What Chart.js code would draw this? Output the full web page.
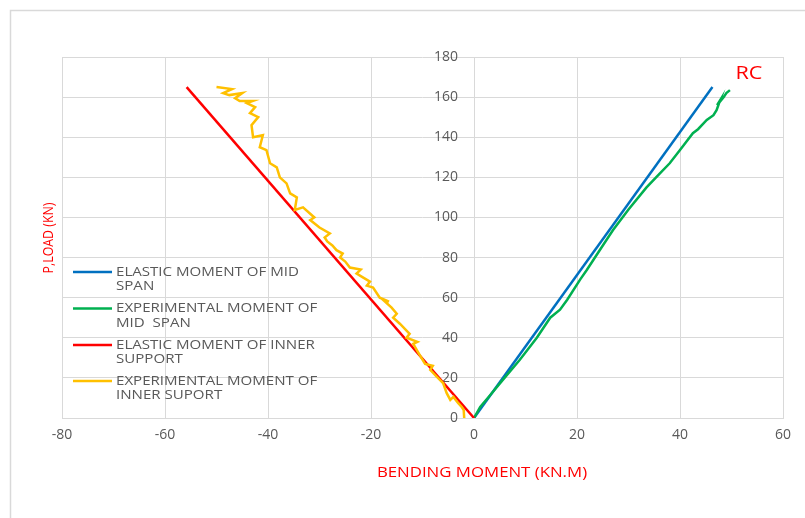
<!DOCTYPE html>
<html>
<head>
<meta charset="utf-8">
<script src="https://cdn.jsdelivr.net/npm/chart.js@4.4.1/dist/chart.umd.min.js"></script>
<style>
  html, body { margin: 0; padding: 0; background: #fff; }
  #wrap { width: 805px; height: 518px; }
</style>
</head>
<body>
<div id="wrap"><canvas id="grafico" width="805" height="518"></canvas></div>
<script>
// series names
const seriesNames = [
    ['ELASTIC MOMENT OF MID', 'SPAN'],
    ['EXPERIMENTAL MOMENT OF', 'MID  SPAN'],
    ['ELASTIC MOMENT OF INNER', 'SUPPORT'],
    ['EXPERIMENTAL MOMENT OF', 'INNER SUPORT']
];
const seriesColors = ['#0070C0', '#00B050', '#FF0000', '#FFC000'];

// elastic mid span (straight line)
const elasticMidX = [0, 46.3];
const elasticMidY = [0, 165];

// experimental mid span
const expMidX = [0, 1.2, 3, 5.6, 8.9, 12.2, 14.8, 16.7, 18.1, 20.6, 21.9, 24.5, 27, 30, 33.5, 36.1, 38, 40, 42.5, 43.5, 45.2, 46.5, 47.1, 47.8, 47.2, 48.5, 49, 49.7];
const expMidY = [0, 5.5, 11, 19, 29, 40, 50, 54, 59, 69, 73.8, 84, 93.7, 104, 115, 122, 127, 133.6, 142, 144, 148.6, 151, 153.5, 158.5, 156, 160, 162, 163.5];

// elastic inner support (straight line)
const elasticInnerX = [0, -55.8];
const elasticInnerY = [0, 165];

// experimental inner support
const expInnerX = [-1.9, -2.0, -2.4, -3.1, -4, -4.6, -5.3, -6, -7.2, -8.5, -8, -9.5, -10.9, -11.8, -11, -13.1, -12.5, -14.4, -15.7, -15, -16, -17.7, -16.5, -18.3, -19.6, -20.8, -20.2, -21.5, -22.8, -22, -24.1, -25, -26, -25.5, -26.7, -27.5, -28.5, -29, -28, -30, -31.8, -31, -33.2, -34.8, -34.4, -35.7, -36.4, -37.7, -38.3, -39.6, -40.3, -41.6, -41, -42.9, -43.2, -41.9, -43.5, -42.5, -44.1, -43, -45.5, -46.4, -45, -47.5, -48.7, -47, -50];
const expInnerY = [0, 4, 5.6, 7.5, 10.5, 9, 12.4, 17.4, 20.5, 24, 26, 27, 33, 37, 38, 40, 42, 47, 50, 52, 55, 59, 58, 60, 65, 66, 68, 70, 72, 74, 75, 78, 80, 82, 83.7, 86, 88, 90, 92, 95, 98.7, 100, 105, 103.7, 110, 112, 117, 120, 125, 127, 133.6, 135, 141, 140, 146, 150, 152, 155, 157, 158, 158, 159.5, 162, 161, 162, 164, 165];

const xTitle = 'BENDING MOMENT (KN.M)';
const yTitle = 'P,LOAD (KN)';
const chartLabel = 'RC';

function puntos(xs, ys) {
    return xs.map((x, i) => ({ x: x, y: ys[i] }));
}

const fuente = '"Open Sans", "Liberation Sans", sans-serif';

// text a bit wider than the font, like the original screenshot
function texto(ctx, txt, x, y, sx, sy) {
    ctx.save();
    ctx.translate(x, y);
    ctx.scale(sx, sy || 1);
    ctx.fillText(txt, 0, 0);
    ctx.restore();
}

// legend, titles and frame drawn on the canvas
const extras = {
    id: 'extras',
    beforeDraw(chart) {
        const ctx = chart.ctx;
        ctx.save();
        ctx.strokeStyle = '#d9d9d9';
        ctx.lineWidth = 1.5;
        ctx.beginPath();
        ctx.moveTo(10.5, 600);
        ctx.lineTo(10.5, 10.5);
        ctx.lineTo(900, 10.5);
        ctx.stroke();
        ctx.restore();
    },
    afterDraw(chart) {
        const ctx = chart.ctx;
        ctx.save();
        // legend
        const rows = [272, 308.5, 345, 381];
        ctx.font = '13px ' + fuente;
        ctx.textBaseline = 'middle';
        ctx.textAlign = 'left';
        seriesNames.forEach((nm, i) => {
            const y = rows[i];
            ctx.strokeStyle = seriesColors[i];
            ctx.lineWidth = 2.5;
            ctx.beginPath();
            ctx.moveTo(73, y);
            ctx.lineTo(112, y);
            ctx.stroke();
            ctx.fillStyle = '#595959';
            texto(ctx, nm[0], 116, y, 1.16);
            texto(ctx, nm[1], 116, y + 14.5, 1.16);
        });
        // axis titles
        ctx.fillStyle = '#FF0000';
        ctx.textAlign = 'center';
        ctx.font = '14px ' + fuente;
        texto(ctx, xTitle, 482, 473, 1.2);
        ctx.save();
        ctx.font = '13px ' + fuente;
        ctx.translate(49, 238);
        ctx.rotate(-Math.PI / 2);
        texto(ctx, yTitle, 0, 0, 0.95, 1.18);
        ctx.restore();
        ctx.font = '18px ' + fuente;
        texto(ctx, chartLabel, 749, 74, 1.2);
        ctx.restore();
    }
};

const tickFont = { family: fuente, size: 14 };

const ctx = document.getElementById('grafico').getContext('2d');
new Chart(ctx, {
    type: 'scatter',
    data: {
        datasets: [
            { label: seriesNames[0].join(' '), data: puntos(elasticMidX, elasticMidY), borderColor: seriesColors[0], order: 4 },
            { label: seriesNames[1].join(' '), data: puntos(expMidX, expMidY), borderColor: seriesColors[1], order: 3 },
            { label: seriesNames[2].join(' '), data: puntos(elasticInnerX, elasticInnerY), borderColor: seriesColors[2], order: 2 },
            { label: seriesNames[3].join(' '), data: puntos(expInnerX, expInnerY), borderColor: seriesColors[3], order: 1 }
        ].map(d => Object.assign(d, {
            showLine: true,
            pointRadius: 0,
            borderWidth: 2.5,
            tension: 0,
            backgroundColor: d.borderColor
        }))
    },
    options: {
        responsive: false,
        animation: false,
        layout: {
            padding: { left: 62, right: 22, top: 57, bottom: 70 }
        },
        plugins: {
            legend: { display: false },
            tooltip: { enabled: false }
        },
        scales: {
            x: {
                type: 'linear',
                position: 'bottom',
                min: -80,
                max: 60,
                ticks: { stepSize: 20, color: '#595959', font: tickFont, padding: 9 },
                grid: { color: '#d9d9d9', drawTicks: false },
                border: { color: '#d9d9d9' },
                afterFit: s => { s.height = 30; }
            },
            // horizontal grid lines, axis crossing at x = 0
            y: {
                type: 'linear',
                position: { x: 0 },
                min: 0,
                max: 180,
                ticks: { stepSize: 20, display: false },
                grid: { color: '#d9d9d9', drawTicks: false },
                border: { display: false }
            },
            // tick labels just left of the x = 0 line
            yLabels: {
                type: 'linear',
                axis: 'y',
                position: { x: -3.1 },
                min: 0,
                max: 180,
                ticks: { stepSize: 20, color: '#595959', font: tickFont },
                grid: { display: false },
                border: { display: false }
            }
        }
    },
    plugins: [extras]
});
</script>
</body>
</html>
